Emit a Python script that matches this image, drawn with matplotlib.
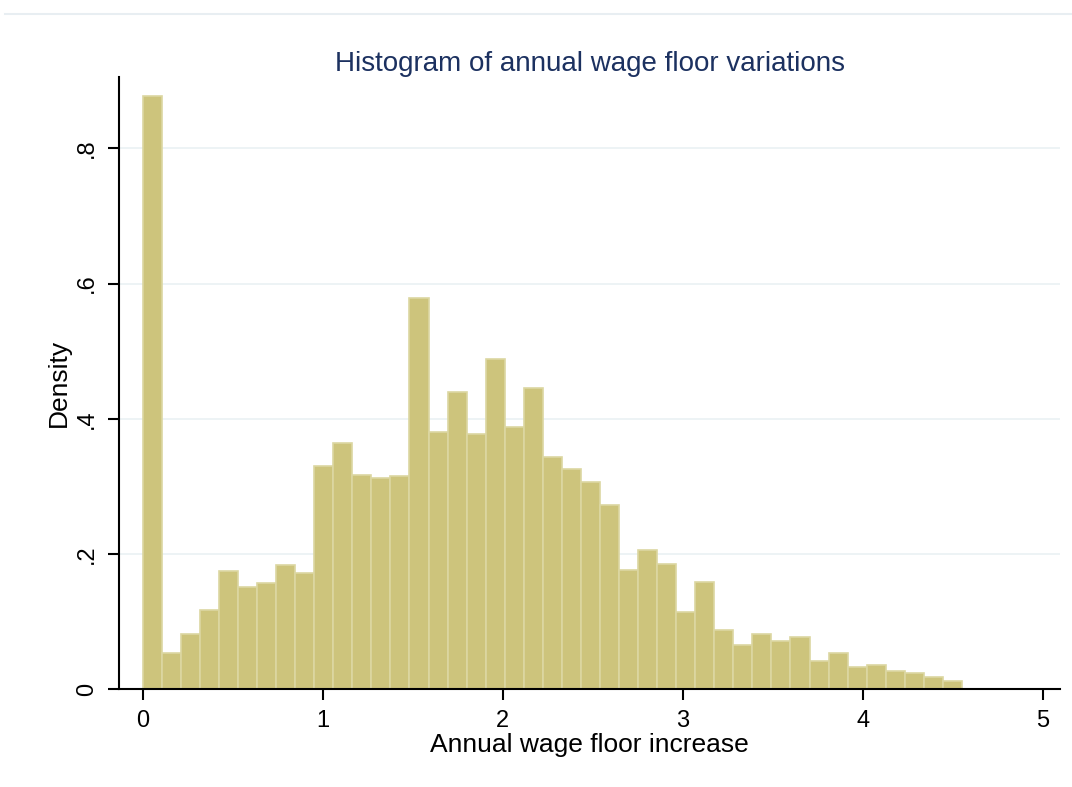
import numpy as np
import matplotlib
matplotlib.use("Agg")
import matplotlib.pyplot as plt
from matplotlib.lines import Line2D

# histogram densities (43 bins over 0 .. 4.55)
bin_min = 0.0
bin_max = 4.55
density = [0.878, 0.053, 0.082, 0.117, 0.174, 0.151, 0.157, 0.183, 0.172,
           0.330, 0.364, 0.316, 0.312, 0.315, 0.578, 0.381, 0.439, 0.378,
           0.488, 0.387, 0.445, 0.343, 0.326, 0.306, 0.273, 0.176, 0.205,
           0.185, 0.114, 0.158, 0.088, 0.065, 0.082, 0.071, 0.077, 0.042,
           0.053, 0.032, 0.036, 0.027, 0.024, 0.018, 0.012]
x_ticks = [0, 1, 2, 3, 4, 5]
y_ticks = [0, 0.2, 0.4, 0.6, 0.8]
y_tick_labels = ["0", ".2", ".4", ".6", ".8"]

plt.rcParams['font.family'] = ['Liberation Sans', 'DejaVu Sans']

bar_color = '#CDC47C'
edge_color = '#DCD7A2'
title_color = '#1C3160'
grid_color = '#EAF1F4'

fig = plt.figure(figsize=(10.72, 7.87), dpi=100)
ax = fig.add_axes([0.111, 0.1245, 0.878, 0.778])

edges = np.linspace(bin_min, bin_max, len(density) + 1)
ax.bar(edges[:-1], density, width=np.diff(edges), align='edge',
       color=bar_color, edgecolor=edge_color, linewidth=1.2, zorder=2)

ax.set_xlim(-0.132, 5.096)
ax.set_ylim(0, 0.906)
ax.set_xticks(x_ticks)
ax.set_xticklabels([str(t) for t in x_ticks])
ax.set_yticks(y_ticks)
ax.set_yticklabels(y_tick_labels, rotation=90, va='center')

for g in y_ticks[1:]:
    ax.axhline(g, color=grid_color, linewidth=1.2, zorder=1)

for s in ['top', 'right']:
    ax.spines[s].set_visible(False)
for s in ['left', 'bottom']:
    ax.spines[s].set_linewidth(1.5)
    ax.spines[s].set_color('black')

ax.tick_params(axis='both', direction='out', length=8, width=1.5,
               labelsize=17, colors='black', pad=7)

ax.set_xlabel("Annual wage floor increase", fontsize=19, labelpad=1)
ax.set_ylabel("Density", fontsize=19, labelpad=4)
ax.set_title("Histogram of annual wage floor variations", fontsize=20,
             color=title_color, pad=4)

# faint outer border line at the top of the graph region
fig.add_artist(Line2D([0.005, 1.0], [0.982, 0.982], color='#E8EEF2',
                      linewidth=1.5, transform=fig.transFigure))

fig.savefig("out.png", dpi=100)
